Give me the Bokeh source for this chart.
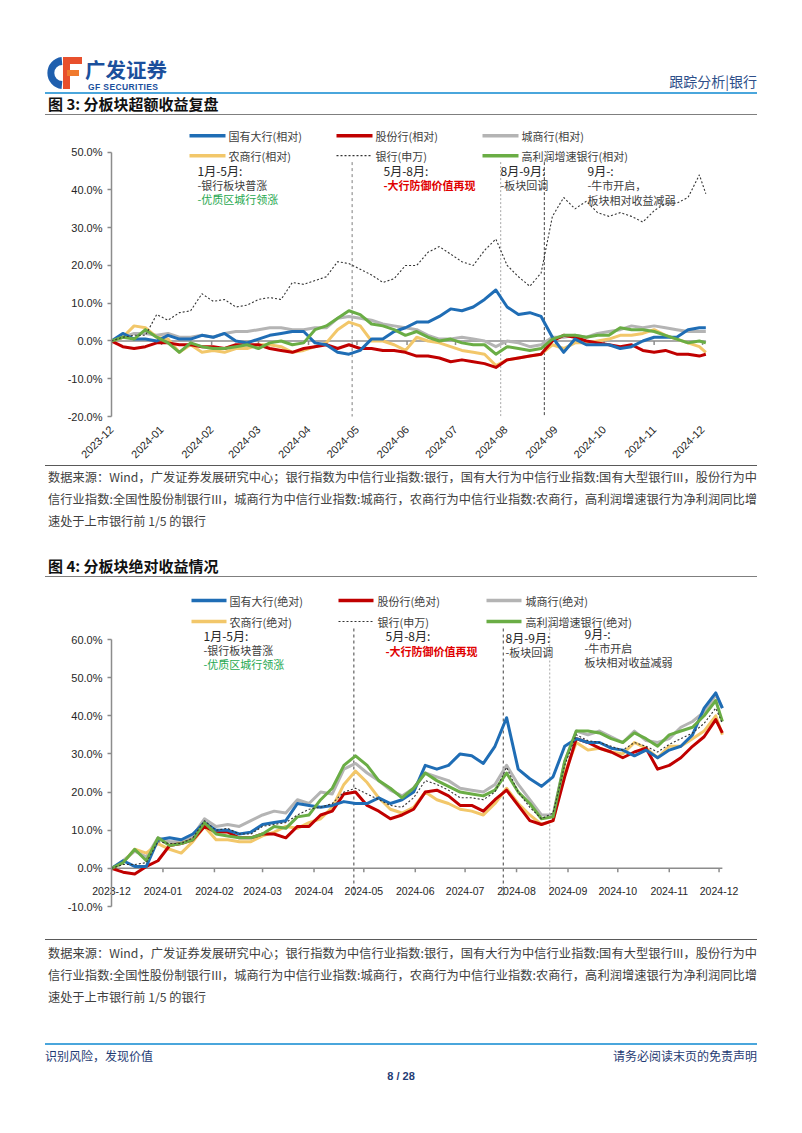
import math
from bokeh.plotting import figure
from bokeh.models import Range1d, FixedTicker, Div
from bokeh.layouts import column
from bokeh.embed import file_html
from bokeh.resources import INLINE
from bokeh.core.properties import value

CJK = "Noto Sans CJK SC"
LAT = "Liberation Sans"
PAGE_W = 802

# ---------------- data ----------------
# x = calendar days since 2023-12-29 (weekly samples)
days = [0, 7, 14, 21, 28, 35, 42, 49, 56, 63, 70, 77, 84, 91, 98, 105, 112, 119, 126, 133,
        140, 147, 154, 161, 168, 175, 182, 189, 196, 203, 210, 217, 224, 231, 238, 245, 252,
        259, 266, 273, 280, 287, 294, 301, 308, 315, 322, 329, 336, 343, 350, 357, 364, 368]
tick_days = [0, 31, 62, 91, 122, 152, 183, 213, 244, 275, 305, 336, 366]
tick_labels = ["2023-12", "2024-01", "2024-02", "2024-03", "2024-04", "2024-05", "2024-06",
               "2024-07", "2024-08", "2024-09", "2024-10", "2024-11", "2024-12"]

# chart 1: relative (excess) returns, %
rel_big = [0, 2, 0.5, 0.5, 0, 1.5, 0.5, 0.5, 1.5, 1, 2, 0, -0.5, 0.5, 1.5, 2, 2.5, 2.5, -0.5, -1,
           -3, -3.5, -2.5, 0.5, 0.5, 2.5, 3.5,
           5, 5, 6.5, 8.5, 8, 9, 11, 13.5, 9, 7, 7.5, 6.5, 1, -3, 0.5, -1, -1, -1, -2, -1.5,
           0, 1, 1, 1, 3, 3.5, 3.5]
rel_joint = [0, -1.5, -2, -1.5, -0.5, -0.5, -1, -1, -1.5, -1.5, -2, -1, -1, -1, -2, -2.5, -3, -2,
             -1.5, -1, -2, -1, -2, -2, -2.5, -2.5, -3,
             -4, -4, -4.5, -5.5, -5, -5.5, -6, -7, -5, -4.5, -4, -3.5, 0, 1.5, 1, 0, -0.5, -1,
             -1.5, -1, -2.5, -3, -2.5, -3.5, -3.5, -4, -3.5]
rel_city = [0, 1, 2, 2, 1.5, 2, 1, 1, 1.5, 1, 2, 2.5, 2.5, 3, 3.5, 3.5, 3, 3, 3.5, 3.5,
            6, 6.5, 6, 5.5, 4.5, 4, 3.5,
            3, 1.5, 0.5, 0.5, 1, 0.5, 0, -1.5, 0, -0.5, -1.5, -1, 1, 1, 1.5, 1, 2, 2.5, 3, 4,
            3.5, 4, 3.5, 3, 2.5, 2.5, 2.5]
rel_rural = [0, 1, 4, 3.5, 1, 0.5, -3, -1, -3, -2.5, -3, -2, -2, -1, -1, -1.5, -3, -2.5, -1.5,
             -0.5, 3, 5, 4, 0, 0, -1, -2.5,
             1, 0, -0.5, -1.5, -2.5, -3, -3.5, -6.5, -5, -4.5, -4, -3.5, -1, -2, -0.5, -0.5,
             0, 0.5, 1.5, 1.5, 2, 3, 1.5, 0.5, -0.5, -1.5, -3]
rel_bank = [0, 1, 1.5, 1.5, 7, 5.5, 7.5, 8, 12.5, 10.5, 11, 9, 9.5, 11, 11.5, 11, 15.5, 15, 16,
            17, 21, 20.5, 19, 17.5, 15.5, 16.5, 20,
            20, 23.5, 25, 23, 21, 20, 24, 27, 20, 17, 14.5, 18, 33, 38, 35, 37, 34, 33, 34, 33,
            31.5, 34.5, 36.5, 36.5, 38, 44, 39]
rel_high = [0, 1, 0.5, 3, 1, -0.5, -3, -0.5, -1.5, -2, -2, -1.5, -1, -2, -0.5, 0, -1, -0.5, 3,
            4, 6, 8, 7, 4.5, 4, 3, 1.5,
            2.5, 1, 0, 0.5, -0.5, -1, -1, -3.5, -1.5, -2, -2.5, -2, 0.5, 1.5, 1.5, 1, 1.5, 1.5,
            3.5, 3, 3, 2.5, 1.5, 0.5, -0.5, 0, -0.5]

# chart 2: absolute returns, %
abs_big = [0, 2, 0.5, 0.5, 7.5, 8, 7.5, 9, 12, 10, 10, 9, 9.5, 11.5, 12, 12.5, 17, 16.5, 16,
           16.5, 17.5, 17, 17, 18.5, 17, 18, 20,
           27, 26, 27, 30, 29.5, 27.5, 32, 39.5, 26, 23.5, 21.5, 24, 32, 34, 33, 33, 31.5, 31,
           29.5, 31, 29, 31, 32, 35, 42, 46, 42]
abs_joint = [0, -1, -1.5, 0.5, 2, 6, 6.5, 7.5, 11, 9.5, 9.5, 8, 8, 9, 9, 8, 11, 11, 14, 15,
             19.5, 20, 16.5, 15, 13, 14, 15.5,
             20, 20.5, 19, 16.5, 16.5, 15, 18, 20.5, 16.5, 12.5, 11.5, 12.5, 24, 34, 33, 31.5,
             30.5, 29, 30.5, 31.5, 26, 27, 29, 32, 34.5, 39, 35.5]
abs_city = [0, 2, 4.5, 3, 8, 7, 7, 8.5, 13, 11, 11.5, 11, 12.5, 14, 15, 14.5, 18, 17, 20, 19.5,
            26, 27.5, 25, 23, 20.5, 19, 21,
            25, 24, 23, 21, 20.5, 20, 22, 27, 22, 18, 14, 14, 28, 36, 35, 36, 34.5, 33, 36,
            33.5, 33, 34, 37, 38.5, 41, 45.5, 42]
abs_rural = [0, 1.5, 5, 4, 6.5, 5, 4, 7, 11, 7.5, 7.5, 7, 7, 8.5, 9.5, 11, 10.5, 12, 13, 16,
             22, 25.5, 22.5, 18.5, 15.5, 14.5, 16,
             20, 18, 17, 15.5, 15, 14, 17, 21, 17, 14, 11.5, 12.5, 25, 33, 31, 31.5, 30.5, 30,
             33, 31.5, 29, 32, 32, 34, 36, 40, 35]
abs_bank = [0, 1, 1, 1.5, 7, 6.5, 6.5, 8, 12.5, 10, 10.5, 9, 9, 11, 11.5, 12, 14, 15.5, 16, 17,
            20, 21, 19.5, 18, 16.5, 16, 18.5,
            23, 22, 20.5, 18.5, 18.5, 18, 20, 26.5, 20, 16, 13, 14.5, 27, 35, 33.5, 33, 32, 31,
            33, 32, 30.5, 32.5, 34, 35.5, 38, 42, 38]
abs_high = [0, 1.5, 5, 2, 8, 6, 6.5, 7.5, 12, 9, 8.5, 8, 8, 9, 11, 10.5, 13.5, 14, 18, 21,
            27, 29.5, 27, 23, 21, 18.5, 21,
            25, 23, 21.5, 20, 19.5, 19, 20.5, 25, 20, 17, 13, 13.5, 28, 36, 36, 35.5, 34, 33,
            35.5, 34, 32, 35, 36, 37, 40, 44, 38.5]

labels_rel = ["国有大行(相对)", "股份行(相对)", "城商行(相对)", "农商行(相对)", "银行(申万)", "高利润增速银行(相对)"]
labels_abs = ["国有大行(绝对)", "股份行(绝对)", "城商行(绝对)", "农商行(绝对)", "银行(申万)", "高利润增速银行(绝对)"]
period_days_1 = [149, 241, 268]
period_days_2 = [146, 236, 264]
yticks_1 = [-20, -10, 0, 10, 20, 30, 40, 50]
yticks_2 = [-10, 0, 10, 20, 30, 40, 50, 60]

# ---------------- styles ----------------
C_BLUE, C_RED, C_GRAY, C_YEL, C_BANK, C_GRN = "#1f6db5", "#c00000", "#b4b4b4", "#f2c76a", "#333333", "#6aad45"
series_colors = [C_BLUE, C_RED, C_GRAY, C_YEL, C_BANK, C_GRN]
TXT = "#404040"
BLUE_RULE = "#4aa6dc"
NAVY = "#1f3c74"


# ---------------- HTML helpers for page furniture ----------------
def h_text(x, y, s, size=12, color=TXT, font=CJK, align="left", bold=False, extra=""):
    tx = {"left": "0", "right": "-100%", "center": "-50%"}[align]
    weight = "bold" if bold else "normal"
    return (f'<div style="position:absolute;left:{x}px;top:{y}px;transform:translate({tx},-50%);'
            f"font-family:'{font}';font-size:{size}px;font-weight:{weight};color:{color};"
            f'line-height:1.0;white-space:nowrap;{extra}">{s}</div>')


def h_rule(y, color, h=1, x0=45, x1=757):
    return (f'<div style="position:absolute;left:{x0}px;top:{y}px;width:{x1 - x0}px;'
            f'height:{h}px;background:{color};"></div>')


def page_div(height, parts):
    html = (f'<div style="position:relative;width:{PAGE_W}px;height:{height}px;overflow:hidden;'
            f'background:#ffffff;margin:0;padding:0;">' + "".join(parts) + "</div>")
    return Div(text=html, width=PAGE_W, height=height, margin=0)


src_lines = [
    "数据来源：Wind，广发证券发展研究中心；银行指数为中信行业指数:银行，国有大行为中信行业指数:国有大型银行III，股份行为中",
    "信行业指数:全国性股份制银行III，城商行为中信行业指数:城商行，农商行为中信行业指数:农商行，高利润增速银行为净利润同比增",
    "速处于上市银行前 1/5 的银行",
]


def src_block(y0):
    out = []
    for k, line in enumerate(src_lines):
        extra = "width:709px;text-align:justify;text-align-last:justify;" if k < 2 else ""
        out.append(h_text(48, y0 + 22 * k, line, size=12.2, color=TXT, extra=extra))
    return out


# ---------------- chart helpers ----------------
def put(p, x, y, s, size=12, color=TXT, font=CJK, align="left", bold=False, **kw):
    p.text(x=[x], y=[y], text=[s], text_font=value(font), text_font_size=f"{size}px",
           text_color=color, text_align=align, text_baseline="middle",
           text_font_style="bold" if bold else "normal", **kw)


def chart(top, fbottom, bottom, px_day, ymin, y50_ref, yval_ref, yticks, rotated):
    px_pct = (fbottom - y50_ref) / (yval_ref - ymin)
    ytop = yval_ref + (y50_ref - top) / px_pct
    p = figure(width=PAGE_W, height=bottom - top, x_range=Range1d(0, 646 / px_day),
               y_range=Range1d(ymin, ytop), min_border_left=111, min_border_right=45,
               min_border_top=0, min_border_bottom=bottom - fbottom, output_backend="svg",
               toolbar_location=None, outline_line_color=None)
    p.extra_x_ranges = {"rx": Range1d(111, 757)}
    p.extra_y_ranges = {"ry": Range1d(fbottom, top)}
    p.grid.visible = False
    ya = p.yaxis[0]
    ya.ticker = FixedTicker(ticks=yticks)
    ya.major_label_overrides = {v: f"{v:.1f}%" for v in yticks}
    ya.bounds = (yticks[0], yticks[-1])
    ya.axis_line_color = "#8c8c8c"
    ya.axis_line_width = 1.5
    ya.major_tick_line_color = "#8c8c8c"
    ya.major_tick_line_width = 1.5
    ya.major_tick_out = 4
    ya.major_tick_in = 0
    ya.minor_tick_line_color = None
    ya.major_label_text_font = LAT
    ya.major_label_text_font_size = "11px"
    ya.major_label_text_color = "#262626"
    xa = p.xaxis[0]
    xa.ticker = FixedTicker(ticks=tick_days)
    xa.major_label_overrides = dict(zip(tick_days, tick_labels))
    xa.minor_tick_line_color = None
    xa.major_label_text_font = LAT
    xa.major_label_text_color = "#262626"
    xa.axis_line_color = None
    xa.major_tick_line_color = None
    if rotated:
        xa.major_label_orientation = math.pi / 4
        xa.major_label_standoff = 5
        xa.major_label_text_font_size = "11px"
    else:
        # labels sit just under the zero line, inside the plotting area (as in the original)
        xa.major_label_standoff = -26
        xa.major_label_text_font_size = "10.5px"
    return p


def draw_common(p, series, labels, period_days, period_styles, period_top, period_bottom,
                legend_x, legend_y):
    for d, (col, dash) in zip(period_days, period_styles):
        p.segment(x0=[d], y0=[period_top], x1=[d], y1=[period_bottom], y_range_name="ry",
                  line_color=col, line_width=1, line_dash=dash)
    p.segment(x0=[days[0]], y0=[0], x1=[days[-1]], y1=[0], line_color="#8c8c8c", line_width=1.5)
    n = len(tick_days)
    p.segment(x0=tick_days, y0=[0] * n, x1=tick_days, y1=[-1.05] * n, line_color="#8c8c8c",
              line_width=1.5)
    for i in [2, 3, 1, 0, 5]:
        p.line(days, series[i], line_color=series_colors[i], line_width=3, line_join="round")
    p.line(days, series[4], line_color=C_BANK, line_width=1.1, line_dash="2 2")
    for i, lab in enumerate(labels):
        r, c = divmod(i, 3)
        sx0, sx1, tx = legend_x[c]
        y = legend_y[r]
        if i == 4:
            p.segment(x0=[sx0], y0=[y], x1=[sx1], y1=[y], x_range_name="rx", y_range_name="ry",
                      line_color=C_BANK, line_width=1.1, line_dash="2 2")
        else:
            p.segment(x0=[sx0], y0=[y], x1=[sx1], y1=[y], x_range_name="rx", y_range_name="ry",
                      line_color=series_colors[i], line_width=3.5)
        put(p, tx, y, lab, size=11, color=TXT, x_range_name="rx", y_range_name="ry")


def draw_notes(p, notes):
    for x, y, s, col, bold, size in notes:
        put(p, x, y, s, size=size, color=col, bold=bold, x_range_name="rx", y_range_name="ry")


# ---------------- header ----------------
logo_svg = (
    '<svg width="802" height="122" style="position:absolute;left:0;top:0;">'
    '<path d="M 61.6 57.1 A 16 16 0 0 0 61.6 88.9 L 62.3 81.0 A 8 8 0 0 1 62.3 65.0 Z" fill="#1f5fae"/>'
    '<rect x="63" y="57" width="19" height="7" fill="#e8502d"/>'
    '<rect x="63" y="57" width="7" height="32" fill="#e8502d"/>'
    '<rect x="67" y="70" width="12" height="6" fill="#f07a2e"/>'
    '</svg>')
header = page_div(122, [
    logo_svg,
    h_text(85, 69, "广发证券", size=20.5, color="#1b4f9c", bold=True),
    h_text(88, 87, "GF SECURITIES", size=8.5, color="#1b4f9c", font=LAT, bold=True,
           extra="letter-spacing:0.4px;"),
    h_text(757, 81, "跟踪分析|银行", size=14, color="#2e4f8a", align="right"),
    h_rule(91.5, BLUE_RULE, 2),
    h_text(48, 102.5, "图 3: 分板块超额收益复盘", size=15, color="#111111", bold=True),
    h_rule(114, "#7f7f7f", 1),
])

# ---------------- chart 1 ----------------
p1 = chart(122, 419, 464, 1.615, -20, 152, 50, yticks_1, True)
draw_common(p1, [rel_big, rel_joint, rel_city, rel_rural, rel_bank, rel_high], labels_rel,
            period_days_1, [("#7f7f7f", "3 3"), ("#a6a6a6", "2 2"), ("#404040", "3 2")], 162, 440,
            [(189, 225, 228), (336, 372, 375), (482, 518, 521)], [135.5, 155.5])
draw_notes(p1, [
    (197, 170, "1月-5月:", "#262626", False, 12),
    (197, 185, "-银行板块普涨", "#404040", False, 11),
    (197, 199, "-优质区城行领涨", "#1fa84f", False, 11),
    (383, 170, "5月-8月:", "#262626", False, 12),
    (383, 185, "-大行防御价值再现", "#e00000", True, 11),
    (500, 170, "8月-9月:", "#262626", False, 12),
    (500, 185, "-板块回调", "#404040", False, 11),
    (587, 170, "9月-:", "#262626", False, 12),
    (587, 185, "-牛市开启，", "#404040", False, 11),
    (587, 200, "板块相对收益减弱", "#404040", False, 11),
])

# ---------------- source 1 + title 2 (top = 464) ----------------
src1 = page_div(114, [h_rule(1, "#595959", 1)] + src_block(13) + [
    h_text(48, 101, "图 4: 分板块绝对收益情况", size=15, color="#111111", bold=True),
    h_rule(112, "#7f7f7f", 1),
])

# ---------------- chart 2 ----------------
p2 = chart(578, 906, 937, 1.66, -10, 639, 60, yticks_2, False)
draw_common(p2, [abs_big, abs_joint, abs_city, abs_rural, abs_bank, abs_high], labels_abs,
            period_days_2, [("#404040", "3 3"), ("#404040", "3 3"), ("#a6a6a6", "2 2")], 628, 895,
            [(191, 226, 229), (338, 373, 377), (486, 521, 525)], [600, 621])
draw_notes(p2, [
    (203, 635, "1月-5月:", "#262626", False, 12),
    (203, 649, "-银行板块普涨", "#404040", False, 11),
    (203, 663, "-优质区城行领涨", "#1fa84f", False, 11),
    (385, 635, "5月-8月:", "#262626", False, 12),
    (385, 650, "-大行防御价值再现", "#e00000", True, 11),
    (505, 637, "8月-9月:", "#262626", False, 12),
    (505, 651, "-板块回调", "#404040", False, 11),
    (584, 633, "9月-:", "#262626", False, 12),
    (584, 647, "-牛市开启", "#404040", False, 11),
    (584, 661, "板块相对收益减弱", "#404040", False, 11),
])

# ---------------- source 2 + footer (top = 937) ----------------
src2 = page_div(195, [h_rule(2, "#595959", 1)] + src_block(16) + [
    h_rule(106, BLUE_RULE, 2),
    h_text(45, 119, "识别风险，发现价值", size=12, color=NAVY),
    h_text(757, 119, "请务必阅读末页的免责声明", size=12, color=NAVY, align="right"),
    h_text(401, 139, "8 / 28", size=11, color=NAVY, font=LAT, align="center", bold=True),
])

layout = column(header, p1, src1, p2, src2, spacing=0)
open("out.html", "w").write(file_html(layout, INLINE))
